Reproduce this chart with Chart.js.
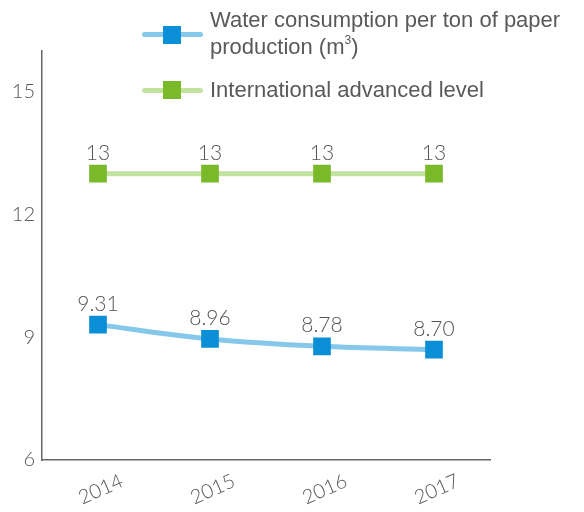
<!DOCTYPE html>
<html>
<head>
<meta charset="utf-8">
<script src="https://cdn.jsdelivr.net/npm/chart.js@4/dist/chart.umd.min.js"></script>
<style>
  html, body { margin: 0; padding: 0; background: #fff; }
  #wrap { position: relative; width: 584px; height: 512px; }
  canvas { position: absolute; left: 0; top: 0; }
  .lg { position: absolute; font-family: "Liberation Sans", Arial, sans-serif; font-size: 22px; color: #595959; line-height: 27px; }
  .lg .ln { position: absolute; left: 0; width: 61px; height: 5px; border-radius: 3px; }
  .lg .mk { position: absolute; left: 21px; width: 18px; height: 18px; }
  .lg .tx { position: absolute; left: 68px; white-space: nowrap; }
  sup { font-size: 12px; line-height: 0; vertical-align: 10px; }
</style>
</head>
<body>
<div id="wrap">
  <canvas id="c" width="584" height="512"></canvas>
  <div class="lg" style="left:142px; top:0px;">
    <div class="ln" style="top:32px; background:#85c8ea;"></div>
    <div class="mk" style="top:26px; background:#0a8fd6;"></div>
    <div class="tx" style="top:6px;">Water consumption per ton of paper<br>production (m<sup>3</sup>)</div>
  </div>
  <div class="lg" style="left:142px; top:0px;">
    <div class="ln" style="top:88px; background:#c2e29f;"></div>
    <div class="mk" style="top:81px; background:#7ab929;"></div>
    <div class="tx" style="top:76px;">International advanced level</div>
  </div>
</div>
<script>
const categories = ["2014", "2015", "2016", "2017"];
const waterConsumption = [9.31, 8.96, 8.78, 8.70];
const waterLabels = ["9.31", "8.96", "8.78", "8.70"];
const internationalLevel = [13, 13, 13, 13];
const internationalLabels = ["13", "13", "13", "13"];
const yTicks = [6, 9, 12, 15];

const valueLabels = {
  id: 'valueLabels',
  afterDatasetsDraw(chart) {
    const ctx = chart.ctx;
    ctx.save();
    ctx.font = '300 21px Lato, "Open Sans", sans-serif';
    ctx.fillStyle = '#555555';
    ctx.textAlign = 'center';
    ctx.textBaseline = 'alphabetic';
    chart.data.datasets.forEach((ds, i) => {
      const meta = chart.getDatasetMeta(i);
      meta.data.forEach((pt, j) => {
        ctx.fillText(ds.labelsText[j], pt.x, pt.y - 14);
      });
    });
    ctx.restore();
  }
};

new Chart(document.getElementById('c'), {
  type: 'line',
  data: {
    labels: categories,
    datasets: [
      {
        label: 'Water consumption per ton of paper production (m³)',
        data: waterConsumption,
        labelsText: waterLabels,
        borderColor: '#85c8ea',
        borderWidth: 5,
        cubicInterpolationMode: 'monotone',
        pointStyle: 'rect',
        pointRadius: 12.5,
        pointHoverRadius: 12.5,
        pointBackgroundColor: '#0a8fd6',
        pointBorderWidth: 0,
        order: 1
      },
      {
        label: 'International advanced level',
        data: internationalLevel,
        labelsText: internationalLabels,
        borderColor: '#c2e29f',
        borderWidth: 5,
        pointStyle: 'rect',
        pointRadius: 12.5,
        pointHoverRadius: 12.5,
        pointBackgroundColor: '#7ab929',
        pointBorderWidth: 0,
        order: 2
      }
    ]
  },
  options: {
    responsive: false,
    animation: false,
    layout: { padding: { top: 51, right: 94, left: 0, bottom: 0 } },
    plugins: { legend: { display: false }, tooltip: { enabled: false } },
    scales: {
      x: {
        offset: true,
        grid: { display: false, drawTicks: false },
        border: { display: true, color: '#666666', width: 1.5 },
        ticks: {
          color: '#555555',
          font: { family: 'Lato, "Open Sans", sans-serif', size: 20, weight: '300' },
          minRotation: 24,
          maxRotation: 24,
          labelOffset: 24,
          padding: 9
        },
        afterFit(scale) { scale.height = 52; }
      },
      y: {
        min: 6,
        max: 16,
        grid: { display: false, drawTicks: false },
        border: { display: true, color: '#666666', width: 1.5 },
        afterBuildTicks(scale) { scale.ticks = yTicks.map(v => ({ value: v })); },
        ticks: {
          color: '#555555',
          font: { family: 'Lato, "Open Sans", sans-serif', size: 20, weight: '300' },
          padding: 7
        },
        afterFit(scale) { scale.width = 42; }
      }
    }
  },
  plugins: [valueLabels]
});
</script>
</body>
</html>
